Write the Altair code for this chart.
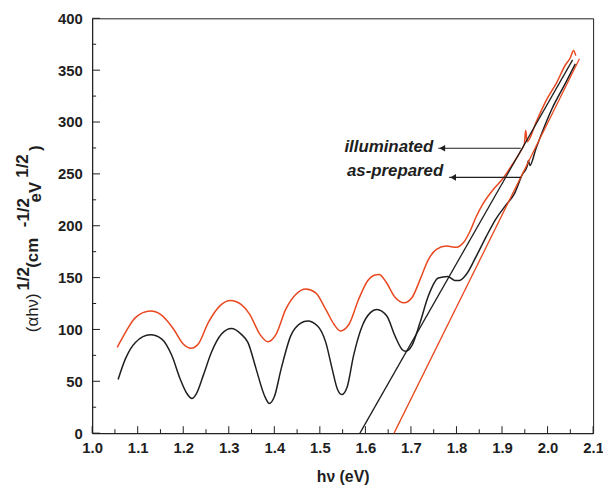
import altair as alt
import pandas as pd

# ---------------- data ----------------
black_curve_x = [1.057, 1.073, 1.095, 1.128, 1.153, 1.175, 1.193, 1.208, 1.219, 1.229, 1.244, 1.262, 1.284, 1.306,
                 1.327, 1.342, 1.360, 1.378, 1.389, 1.400, 1.415, 1.436, 1.458, 1.473, 1.495, 1.513, 1.527, 1.538,
                 1.548, 1.560, 1.574, 1.593, 1.611, 1.625, 1.647, 1.665, 1.680, 1.689, 1.702, 1.720, 1.738, 1.760,
                 1.781, 1.796, 1.807, 1.821, 1.843, 1.865, 1.887, 1.908, 1.927, 1.945, 1.955, 1.958, 1.961, 1.975,
                 2.010, 2.040, 2.061]
black_curve_y = [51.8, 71.6, 87.5, 94.8, 90.7, 74.8, 52.5, 38.2, 33.4, 38.2, 55.7, 78.0, 95.5, 100.9,
                 95.5, 87.5, 62.0, 36.6, 28.6, 35.0, 62.0, 93.8, 106.0, 108.2, 103.4, 87.5, 62.0, 43.0,
                 37.2, 44.6, 74.8, 103.4, 116.2, 119.3, 113.0, 93.8, 81.0, 78.9, 84.3, 106.6, 132.0, 149.6,
                 151.1, 147.3, 147.3, 152.7, 170.2, 189.3, 206.9, 219.6, 230.7, 249.8, 257.0, 263.0, 258.0, 275.0,
                 313.0, 338.0, 356.0]

red_curve_x = [1.055, 1.073, 1.095, 1.128, 1.153, 1.179, 1.200, 1.217, 1.233, 1.255, 1.280, 1.304, 1.327,
               1.346, 1.368, 1.386, 1.404, 1.425, 1.447, 1.469, 1.491, 1.513, 1.531, 1.545, 1.564, 1.585,
               1.605, 1.618, 1.630, 1.645, 1.665, 1.685, 1.702, 1.720, 1.738, 1.756, 1.778, 1.800, 1.814, 1.829,
               1.843, 1.858, 1.879, 1.901, 1.923, 1.941, 1.949, 1.952, 1.955, 1.975, 1.996, 2.020, 2.039,
               2.050, 2.057, 2.062]
red_curve_y = [82.8, 97.0, 111.4, 117.7, 113.6, 100.2, 85.9, 81.8, 85.9, 106.6, 122.5, 127.9, 124.1,
               114.6, 95.5, 88.1, 95.5, 119.3, 133.7, 139.0, 135.3, 119.3, 105.0, 98.6, 105.0, 128.9,
               147.0, 152.0, 153.0, 146.0, 131.0, 125.7, 130.5, 148.0, 167.0, 177.3, 180.4, 179.2, 183.0, 194.0,
               208.4, 221.0, 234.0, 245.0, 259.4, 272.0, 279.0, 292.0, 281.0, 300.0, 320.0, 338.0, 355.0,
               362.0, 369.0, 364.0]

black_line_x = [1.588, 2.055]
black_line_y = [0.0, 360.0]
red_line_x = [1.663, 2.070]
red_line_y = [0.0, 361.0]

arrow_labels = ["illuminated", "as-prepared"]
arrow_start_x = [1.941, 1.941]
arrow_tip_x = [1.760, 1.784]
arrow_y = [274.7, 246.6]
label_right_x = [1.749, 1.771]
label_y = [271.4, 247.6]

x_major = [1.0, 1.1, 1.2, 1.3, 1.4, 1.5, 1.6, 1.7, 1.8, 1.9, 2.0, 2.1]
x_minor = [1.05, 1.15, 1.25, 1.35, 1.45, 1.55, 1.65, 1.75, 1.85, 1.95, 2.05]
y_major = [0, 50, 100, 150, 200, 250, 300, 350, 400]
y_minor = [25, 75, 125, 175, 225, 275, 325, 375]

RED = "#E9471F"
BLACK = "#1E1E1E"
FONT = "Liberation Sans"
W, H = 506, 419

xscale = alt.Scale(domain=[1.0, 2.1], nice=False, zero=False)
yscale = alt.Scale(domain=[0, 400], nice=False, zero=False)
xaxis = alt.Axis(values=x_major, format=".1f", ticks=False, tickSize=0, labelPadding=8, labelFlush=False,
                 labelOverlap=False, grid=False, title="hν (eV)", titleFontSize=16, titleFontWeight="bold",
                 titlePadding=13, titleFont=FONT, titleColor=BLACK,
                 labelFont=FONT, labelFontSize=15, labelFontWeight="bold", labelColor=BLACK,
                 domainColor=BLACK, domainWidth=1)
yaxis = alt.Axis(values=y_major, format="d", ticks=False, tickSize=0, labelPadding=10, grid=False,
                 labelOverlap=False, title=None,
                 labelFont=FONT, labelFontSize=15, labelFontWeight="bold", labelColor=BLACK,
                 domainColor=BLACK, domainWidth=1)


def X(field="x"):
    return alt.X(f"{field}:Q", scale=xscale, axis=xaxis)


def Y(field="y"):
    return alt.Y(f"{field}:Q", scale=yscale, axis=yaxis)


def curve(xs, ys, color, interp, width):
    df = pd.DataFrame({"x": xs, "y": ys})
    return alt.Chart(df).mark_line(color=color, strokeWidth=width, interpolate=interp).encode(x=X(), y=Y())


layers = [
    curve(red_curve_x, red_curve_y, RED, "monotone", 1.5),
    curve(black_curve_x, black_curve_y, BLACK, "monotone", 1.5),
    curve(black_line_x, black_line_y, BLACK, "linear", 1.3),
    curve(red_line_x, red_line_y, RED, "linear", 1.3),
]

arr = pd.DataFrame({"x": arrow_start_x, "x2": arrow_tip_x, "y": arrow_y, "lx": label_right_x,
                    "ly": label_y, "t": arrow_labels})
layers.append(alt.Chart(arr).mark_rule(color=BLACK, strokeWidth=1.1).encode(x=X(), x2="x2:Q", y=Y()))
layers.append(alt.Chart(arr).mark_point(shape="triangle-left", filled=True, color=BLACK, size=45, opacity=1,
                                        xOffset=4).encode(x=X("x2"), y=Y()))
layers.append(alt.Chart(arr).mark_text(font=FONT, fontSize=17, fontWeight="bold", fontStyle="italic",
                                       align="right", baseline="alphabetic", color=BLACK)
              .encode(x=X("lx"), y=Y("ly"), text="t:N"))

# inward ticks
layers.append(alt.Chart(pd.DataFrame({"x": x_major})).mark_rule(color=BLACK, strokeWidth=1)
              .encode(x=X(), y=alt.value(H), y2=alt.value(H - 7)))
layers.append(alt.Chart(pd.DataFrame({"x": x_minor})).mark_rule(color=BLACK, strokeWidth=1)
              .encode(x=X(), y=alt.value(H), y2=alt.value(H - 4)))
layers.append(alt.Chart(pd.DataFrame({"y": y_major})).mark_rule(color=BLACK, strokeWidth=1)
              .encode(y=Y(), x=alt.value(0), x2=alt.value(8)))
layers.append(alt.Chart(pd.DataFrame({"y": y_minor})).mark_rule(color=BLACK, strokeWidth=1)
              .encode(y=Y(), x=alt.value(0), x2=alt.value(4)))

# y-axis title built from pieces (superscripts), rotated
title_pieces = [
    ("(αhν)", "normal", -55, 317),
    ("1/2", "bold", -64, 275),
    (" (cm", "bold", -55, 252),
    ("-1/2", "bold", -64, 211),
    ("eV", "bold", -52, 186),
    ("1/2", "bold", -65, 161),
    (")", "bold", -52, 134),
]
for txt, wt, px, py in title_pieces:
    layers.append(alt.Chart(pd.DataFrame({"t": [txt]})).mark_text(
        font=FONT, fontSize=17, fontWeight=wt, angle=270, align="left", baseline="alphabetic", color=BLACK
    ).encode(text="t:N", x=alt.value(px), y=alt.value(py)))

chart = alt.layer(*layers).properties(
    width=W, height=H,
    background="white",
    autosize=alt.AutoSizeParams(type="none"),
    padding={"left": 85, "top": 8, "right": 10, "bottom": 55},
).configure_view(stroke=BLACK, strokeWidth=1)

chart.save("out.html", embed_options={"renderer": "svg", "actions": False})
